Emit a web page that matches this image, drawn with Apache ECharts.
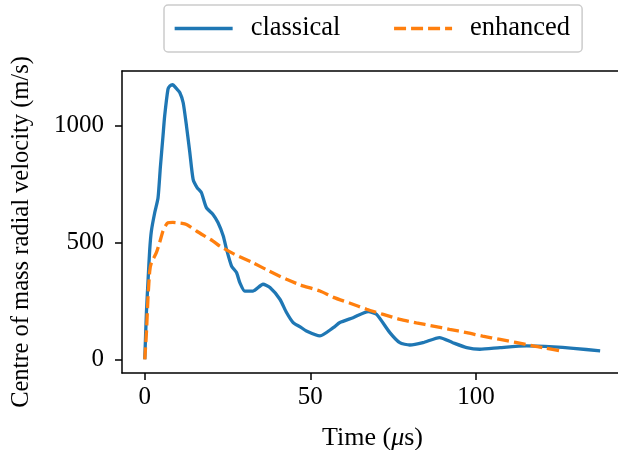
<!DOCTYPE html>
<html>
<head>
<meta charset="utf-8">
<script src="https://cdn.jsdelivr.net/npm/echarts@6/dist/echarts.min.js"></script>
<style>html,body{margin:0;padding:0;background:#fff}#c{width:618px;height:450px}</style>
</head>
<body>
<div id="c"></div>
<script>
var classicalT = [0, 0.5, 1, 1.5, 2, 3, 4, 4.7, 5.5, 6, 7, 7.6, 8.4, 9.5, 10.6, 11.6, 12.6, 13.6, 14.6, 15.8, 17.1, 18.6, 20.6, 22.1, 23.7, 24.7, 26.2, 27.7, 28.7, 30.2, 32.7, 35.7, 37.8, 40.8, 42.8, 44.8, 46.8, 48.8, 52.9, 56.9, 58.9, 62.9, 67.5, 70, 74, 77, 80, 84, 89, 93, 97.2, 101.2, 107.3, 115.3, 123.4, 129.4, 137.5];
var classicalV = [0, 200, 340, 470, 549, 627, 690, 820, 955, 1040, 1155, 1170, 1175, 1160, 1141, 1098, 998, 885, 770, 735, 713, 649, 620, 585, 528, 470, 399, 371, 328, 292, 292, 321, 307, 257, 200, 157, 140, 121, 100, 135, 157, 178, 204, 192, 114, 71, 61, 71, 93, 71, 50, 43, 50, 57, 53, 47, 36];
var enhancedT = [0, 0.5, 1, 1.5, 2, 3.5, 4.5, 5.5, 6.2, 7, 8.5, 10, 11.3, 12.6, 14, 15.6, 18, 20.6, 22.7, 27, 32.7, 37.5, 42.8, 47, 52.9, 57, 62, 67, 72, 77, 82, 87.1, 92, 97.2, 102, 107.3, 112, 117.3, 121, 125.4];
var enhancedV = [0, 114, 271, 377, 413, 456, 500, 549, 570, 584, 586, 584, 582, 577, 565, 549, 528, 506, 484, 450, 413, 378, 342, 318, 292, 265, 240, 214, 192, 171, 156, 142, 128, 114, 99, 85, 72, 57, 48, 36];
var xTicks = [0, 50, 100];
var yTicks = [0, 500, 1000];
var seriesNames = ['classical', 'enhanced'];
var yTitle = 'Centre of mass radial velocity (m/s)';

function pairs(t, v) { return t.map(function (x, i) { return [x, v[i]]; }); }

var FONT = 'Liberation Serif';
var XMIN = -6.875, XMAX = 144.4;
var chart = echarts.init(document.getElementById('c'), null, {renderer: 'canvas'});
chart.setOption({
  animation: false,
  backgroundColor: '#ffffff',
  textStyle: {fontFamily: FONT},
  grid: {left: 122, right: -5, top: 71, bottom: 77, outerBoundsMode: 'none', containLabel: false, show: false},
  legend: {
    data: seriesNames,
    left: 164, top: 5,
    padding: [10, 12, 10, 9],
    itemWidth: 58, itemHeight: 14, itemGap: 52,
    itemStyle: {opacity: 0},
    lineStyle: {width: 3.3},
    backgroundColor: '#fff', borderColor: '#cccccc', borderWidth: 1.5, borderRadius: 4,
    textStyle: {fontFamily: FONT, fontSize: 26.5, color: '#000', padding: [0, 0, 0, 13]}
  },
  graphic: [{
    type: 'text', rotation: Math.PI / 2,
    x: 22, y: 232,
    style: {text: yTitle, fontFamily: FONT, fontSize: 24.5, fill: '#000', align: 'center', verticalAlign: 'middle'}
  }],
  xAxis: [{
    type: 'value', min: XMIN, max: XMAX,
    name: 'Time ({i|\u03bc}s)', nameLocation: 'middle', nameGap: 52,
    nameTextStyle: {fontFamily: FONT, fontSize: 26, color: '#000',
      rich: {i: {fontFamily: FONT, fontSize: 26, fontStyle: 'italic', color: '#000'}}},
    splitLine: {show: false},
    axisLine: {show: true, onZero: false, lineStyle: {color: '#000', width: 1.5}},
    axisTick: {show: true, length: 7, lineStyle: {color: '#000', width: 1.5}, customValues: xTicks},
    axisLabel: {fontFamily: FONT, fontSize: 25, color: '#000', margin: 12, customValues: xTicks,
      formatter: function (v) { return String(v); }}
  }, {
    type: 'value', position: 'top', min: XMIN, max: XMAX,
    splitLine: {show: false},
    axisLine: {show: true, onZero: false, lineStyle: {color: '#000', width: 1.5}},
    axisTick: {show: false}, axisLabel: {show: false}
  }],
  yAxis: {
    type: 'value', min: -58.75, max: 1233.75,
    splitLine: {show: false},
    axisLine: {show: true, onZero: false, lineStyle: {color: '#000', width: 1.5}},
    axisTick: {show: true, length: 7, lineStyle: {color: '#000', width: 1.5}, customValues: yTicks},
    axisLabel: {fontFamily: FONT, fontSize: 25, color: '#000', margin: 18, customValues: yTicks,
      formatter: function (v) { return String(v); }}
  },
  series: [
    {name: seriesNames[0], type: 'line', data: pairs(classicalT, classicalV), symbol: 'none', smooth: 0.2,
     lineStyle: {color: '#1f77b4', width: 3.3}, itemStyle: {color: '#1f77b4'}},
    {name: seriesNames[1], type: 'line', data: pairs(enhancedT, enhancedV), symbol: 'none', smooth: 0.2,
     lineStyle: {color: '#ff7f0e', width: 3.3, type: [12, 5]}, itemStyle: {color: '#ff7f0e'}}
  ]
});
</script>
</body>
</html>
